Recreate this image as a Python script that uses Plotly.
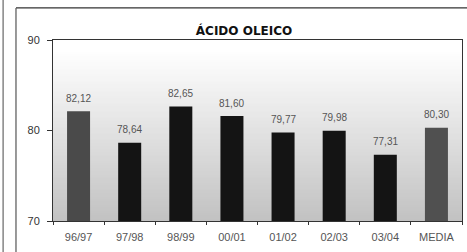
import plotly.graph_objects as go

categories = ["96/97", "97/98", "98/99", "00/01", "01/02", "02/03", "03/04", "MEDIA"]
values = [82.12, 78.64, 82.65, 81.60, 79.77, 79.98, 77.31, 80.30]
value_labels = ["82,12", "78,64", "82,65", "81,60", "79,77", "79,98", "77,31", "80,30"]
bar_colors = ["#4a4a4a", "#141414", "#141414", "#141414", "#141414", "#141414", "#141414", "#505050"]
y_ticks = [70, 80, 90]

fig = go.Figure()
fig.add_trace(go.Bar(
    x=categories, y=values, width=0.45,
    marker=dict(color=bar_colors, line=dict(width=0)),
    hoverinfo="skip",
))

for c, v, t in zip(categories, values, value_labels):
    fig.add_annotation(x=c, y=v, text=t, showarrow=False, yshift=13,
                       font=dict(family="Liberation Sans, Arial", size=10, color="#555"))

# gradient background inside plot area
n = 90
top = 255
bot = 194
shapes = []
for i in range(n):
    f = min(1.0, max(0.0, (i / (n - 1) - 0.05) / 0.95))
    g = int(round(top + (bot - top) * f))
    col = f"rgb({g},{g},{g})"
    shapes.append(dict(type="rect", xref="paper", yref="paper",
                       x0=0, x1=1, y0=max(0, 1 - (i + 1.6) / n), y1=1 - i / n,
                       fillcolor=col, line=dict(width=0), layer="below"))

# outer panel frame lines
shapes.append(dict(type="line", xref="paper", yref="paper", x0=-0.0905, x1=1.03, y0=1.177, y1=1.177,
                   line=dict(color="#333", width=1.2)))
shapes.append(dict(type="line", xref="paper", yref="paper", x0=-0.0905, x1=-0.0905, y0=1.177, y1=-0.2,
                   line=dict(color="#555", width=1.2)))
shapes.append(dict(type="line", xref="paper", yref="paper", x0=-0.122, x1=-0.122, y0=1.25, y1=-0.2,
                   line=dict(color="#666", width=1.2)))

fig.update_layout(
    width=467, height=252,
    margin=dict(l=53, r=5, t=40, b=31),
    paper_bgcolor="white",
    plot_bgcolor="rgba(0,0,0,0)",
    showlegend=False,
    shapes=shapes,
    title=dict(text="<b>ÁCIDO OLEICO</b>", xref="paper", x=0.467, xanchor="center",
               yref="container", y=1 - 31 / 252, yanchor="middle",
               font=dict(family="DejaVu Sans", size=12, color="#111")),
)
fig.update_xaxes(
    showgrid=False, showline=True, linecolor="#333", linewidth=1, mirror=True,
    ticks="outside", tickson="boundaries", ticklen=3, tickcolor="#333", ticklabelstandoff=6,
    tickfont=dict(family="Liberation Sans, Arial", size=11, color="#555"),
)
fig.update_yaxes(
    range=[70, 90], tickvals=y_ticks, showgrid=False,
    showline=True, linecolor="#333", linewidth=1, mirror=True,
    ticks="outside", ticklen=5, tickcolor="#333", ticklabelstandoff=5,
    tickfont=dict(family="Liberation Sans, Arial", size=11, color="#333"),
)

fig.write_html("out.html", config={"displayModeBar": False},
               post_script="document.body.style.margin='0';document.body.style.overflow='hidden';")
